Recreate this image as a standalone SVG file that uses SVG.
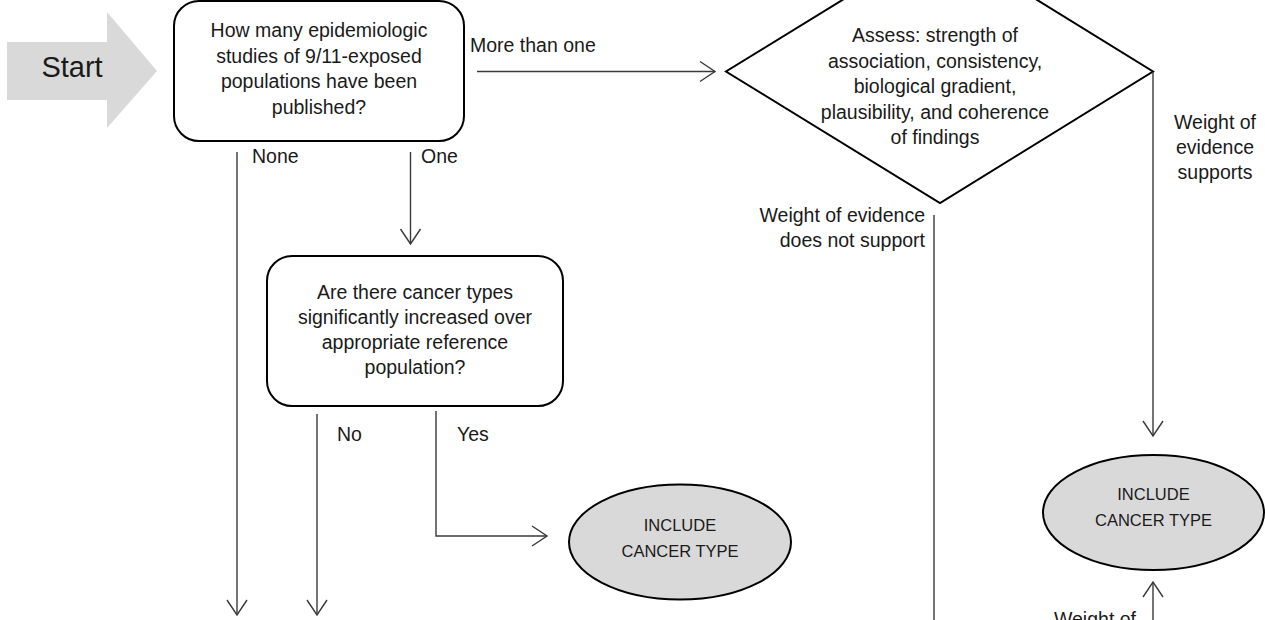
<svg xmlns="http://www.w3.org/2000/svg" width="1265" height="620" viewBox="0 0 1265 620">
<style>
.t{font-family:"Liberation Sans",Arial,sans-serif;font-size:19.5px;fill:#1a1a1a}
.m{text-anchor:middle}
.e{text-anchor:end}
.shape{fill:#fff;stroke:#000;stroke-width:2}
.gray{fill:#d9d9d9;stroke:#000;stroke-width:2}
.c{fill:none;stroke:#3a3a3a;stroke-width:1.4}
.ca{fill:none;stroke:#3a3a3a;stroke-width:1.4;marker-end:url(#arr)}
</style>
<defs>
<marker id="arr" markerUnits="userSpaceOnUse" markerWidth="20" markerHeight="22" refX="16" refY="10" orient="auto" overflow="visible">
<path d="M1,0 L16,10 L1,20" fill="none" stroke="#3a3a3a" stroke-width="1.4"/>
</marker>
</defs>
<rect width="1265" height="620" fill="#fff"/>
<g id="start">
<polygon points="7,42 107,42 107,12 157,71 107,128 107,100 7,100" fill="#d9d9d9"/>
<text class="t m" x="72" y="77" style="font-size:29px">Start</text>
</g>
<g id="q1">
<rect class="shape" x="174" y="1" width="290" height="140" rx="25"/>
<text class="t m" x="319" y="37">How many epidemiologic</text>
<text class="t m" x="319" y="62.5">studies of 9/11-exposed</text>
<text class="t m" x="319" y="88">populations have been</text>
<text class="t m" x="319" y="113.5">published?</text>
</g>
<g id="assess">
<polygon class="shape" points="940,-60 1153,71.5 940,203 726,71.5"/>
<text class="t m" x="935" y="42">Assess: strength of</text>
<text class="t m" x="935" y="67.5">association, consistency,</text>
<text class="t m" x="935" y="93">biological gradient,</text>
<text class="t m" x="935" y="118.5">plausibility, and coherence</text>
<text class="t m" x="935" y="144">of findings</text>
</g>
<g id="q2">
<rect class="shape" x="267" y="256" width="296" height="150" rx="25"/>
<text class="t m" x="415" y="299">Are there cancer types</text>
<text class="t m" x="415" y="324">significantly increased over</text>
<text class="t m" x="415" y="349">appropriate reference</text>
<text class="t m" x="415" y="374">population?</text>
</g>
<g id="include1">
<ellipse class="gray" cx="680" cy="542" rx="111" ry="57.5"/>
<text class="t m" x="680" y="531" style="font-size:16.5px">INCLUDE</text>
<text class="t m" x="680" y="557" style="font-size:16.5px">CANCER TYPE</text>
</g>
<g id="include2">
<ellipse class="gray" cx="1153.5" cy="512.5" rx="110.5" ry="57.5"/>
<text class="t m" x="1153.5" y="500" style="font-size:16.5px">INCLUDE</text>
<text class="t m" x="1153.5" y="526" style="font-size:16.5px">CANCER TYPE</text>
</g>
<g id="connectors">
<path class="ca" d="M477,71.5 L715,71.5"/>
<text class="t" x="470" y="52">More than one</text>
<path class="ca" d="M237,152 L237,615"/>
<text class="t" x="252" y="163">None</text>
<path class="ca" d="M410.5,152 L410.5,244"/>
<text class="t" x="421" y="163">One</text>
<path class="ca" d="M317,414 L317,615"/>
<text class="t" x="337" y="441">No</text>
<path class="ca" d="M436,411 L436,536 L547,536"/>
<text class="t" x="457" y="441">Yes</text>
<path class="ca" d="M1153,72 L1153,436"/>
<text class="t m" x="1215" y="129">Weight of</text>
<text class="t m" x="1215" y="154">evidence</text>
<text class="t m" x="1215" y="179">supports</text>
<path class="c" d="M934,215 L934,625"/>
<text class="t e" x="925" y="222">Weight of evidence</text>
<text class="t e" x="925" y="247">does not support</text>
<path class="ca" d="M1153,625 L1153,582"/>
<text class="t e" x="1136" y="626">Weight of</text>
</g>
</svg>
